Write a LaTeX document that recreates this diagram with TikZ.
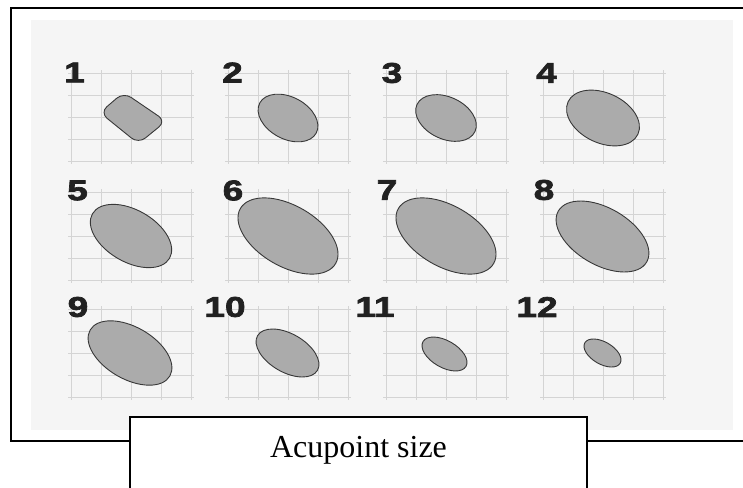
\documentclass[tikz,border=0pt]{standalone}
\usepackage{fontspec}
\setmainfont{Liberation Serif}
\newfontfamily\numfont[FakeStretch=1.3, FakeBold=2.5]{Liberation Sans}
\tikzset{
  gridline/.style={draw=black!17, line width=0.5pt},
  spot/.style={draw=black!78, fill=black!33, line width=0.9pt},
  spotlabel/.style={font=\numfont\bfseries\fontsize{28.5}{30}\selectfont, text=black!87, inner sep=0pt},
  frameline/.style={line width=1.8pt},
  caption/.style={font=\fontsize{32}{36}\selectfont, inner sep=0pt, anchor=base},
}
\begin{document}
\begin{tikzpicture}[x=1pt, y=-1pt]
\useasboundingbox (0,0) rectangle (743,487);
\fill[black!4] (31,20) rectangle (733,430);

\foreach \cx in {131,288,446,603}
  \foreach \cy in {117,236,353} {
    \foreach \d in {-60,-30,0,30,60}
      \draw[gridline] (\cx+\d,\cy-47) -- (\cx+\d,\cy+47);
    \foreach \d in {-44,-22,0,22,44}
      \draw[gridline] (\cx-63,\cy+\d) -- (\cx+63,\cy+\d);
  }

\draw[spot, rounded corners=9pt] (100,112.6) -- (123.6,92.3) -- (166,121.2) -- (138.4,143.7) -- cycle;
\draw[spot, rotate around={-28:(288,118)}] (288,118) ellipse [x radius=32pt, y radius=21pt];
\draw[spot, rotate around={-25:(446,118)}] (446,118) ellipse [x radius=32pt, y radius=21pt];
\draw[spot, rotate around={-25:(603,118)}] (603,118) ellipse [x radius=38.5pt, y radius=25pt];
\draw[spot, rotate around={-30:(131,236)}] (131,236) ellipse [x radius=44.5pt, y radius=26pt];
\draw[spot, rotate around={-30:(288,236)}] (288,236) ellipse [x radius=55pt, y radius=30.5pt];
\draw[spot, rotate around={-30:(446,236)}] (446,236) ellipse [x radius=55pt, y radius=30.5pt];
\draw[spot, rotate around={-30:(602.5,236.5)}] (602.5,236.5) ellipse [x radius=51pt, y radius=28.5pt];
\draw[spot, rotate around={-30:(130,353)}] (130,353) ellipse [x radius=46pt, y radius=26pt];
\draw[spot, rotate around={-30:(287.5,353)}] (287.5,353) ellipse [x radius=34.6pt, y radius=19.2pt];
\draw[spot, rotate around={-30:(444.5,354)}] (444.5,354) ellipse [x radius=24.8pt, y radius=13.4pt];
\draw[spot, rotate around={-30:(602.5,353)}] (602.5,353) ellipse [x radius=20.4pt, y radius=11.1pt];

\node[spotlabel] (n1) at (74.5,72.5) {1};
\node[spotlabel] (n2) at (232.5,72.5) {2};
\node[spotlabel] (n3) at (392,73) {3};
\node[spotlabel] (n4) at (546.5,73) {4};
\node[spotlabel] (n5) at (77.5,190.5) {5};
\node[spotlabel] (n6) at (233,190.5) {6};
\node[spotlabel] (n7) at (387,190) {7};
\node[spotlabel] (n8) at (544,190) {8};
\node[spotlabel] (n9) at (78,307) {9};
\node[spotlabel] (n10) at (225,307) {10};
\node[spotlabel] (n11) at (375,307) {11};
\node[spotlabel] (n12) at (537,307) {12};

\draw[frameline] (130,441) -- (11,441) -- (11,8) -- (743,8);
\draw[frameline] (587,441) -- (743,441);
\draw[line width=1.6pt, fill=white] (130,490) -- (130,417) -- (587,417) -- (587,490);
\node[caption] (size) at (358.5,457) {Acupoint size};
\end{tikzpicture}
\end{document}
